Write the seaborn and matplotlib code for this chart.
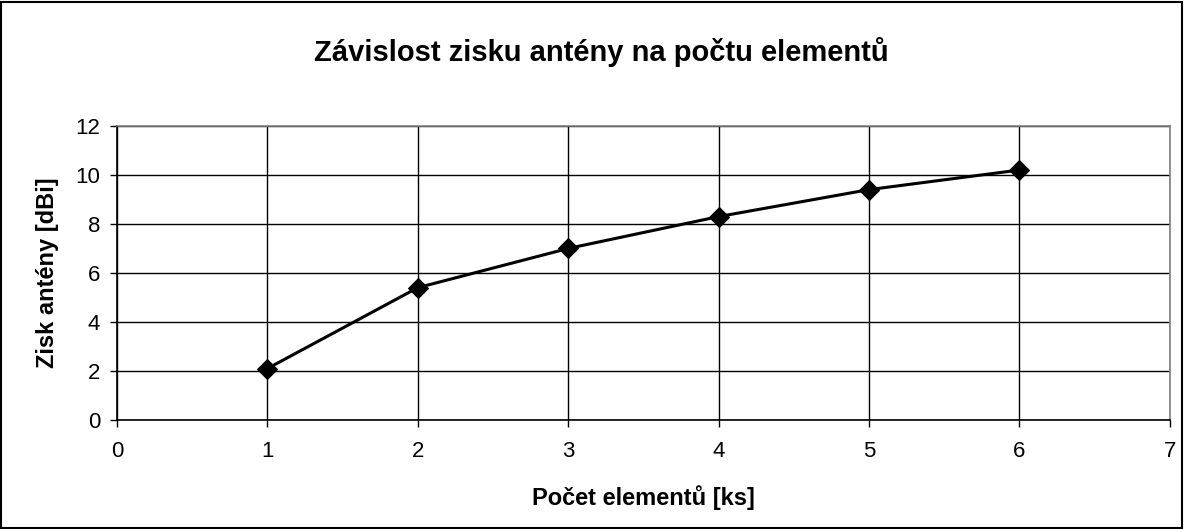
import numpy as np
import pandas as pd
import seaborn as sns
import matplotlib.pyplot as plt
from matplotlib.patches import Rectangle

# data
elements = [1, 2, 3, 4, 5, 6]
gain_dbi = [2.1, 5.4, 7.0, 8.3, 9.4, 10.2]
x_ticks = [0, 1, 2, 3, 4, 5, 6, 7]
y_ticks = [0, 2, 4, 6, 8, 10, 12]

df = pd.DataFrame({'elements': elements, 'gain': gain_dbi})

sns.set_style('white')
plt.rcParams['font.family'] = ['Liberation Sans', 'DejaVu Sans']
plt.rcParams['text.color'] = 'black'
plt.rcParams['axes.labelcolor'] = 'black'

fig = plt.figure(figsize=(11.84, 5.29), dpi=100)
ax = fig.add_axes([0.0988, 0.206, 0.8892, 0.556])

sns.lineplot(data=df, x='elements', y='gain', ax=ax, color='black',
             linewidth=2.2, marker='D', markersize=10, markeredgecolor='black',
             zorder=5)

ax.set_xlim(0, 7)
ax.set_ylim(0, 12)
ax.set_xticks(x_ticks)
ax.set_yticks(y_ticks)
ax.grid(True, color='black', linewidth=1.0)
ax.tick_params(axis='both', labelsize=16, colors='black', direction='out',
               length=5, width=1, left=True, bottom=True)
ax.tick_params(axis='y', pad=7)
ax.tick_params(axis='x', pad=10)

for side in ['left', 'bottom']:
    ax.spines[side].set_color('black')
    ax.spines[side].set_linewidth(1.2)
for side in ['top', 'right']:
    ax.spines[side].set_color('#808080')
    ax.spines[side].set_linewidth(1.2)

ax.set_xlabel('Počet elementů [ks]', fontsize=17, fontweight='bold', va='center')
ax.set_ylabel('Zisk antény [dBi]', fontsize=17, fontweight='bold', va='center')
ax.xaxis.set_label_coords(0.5, -0.262)
ax.yaxis.set_label_coords(-0.066, 0.5)
fig.suptitle('Závislost zisku antény na počtu elementů', fontsize=21,
             fontweight='bold', x=0.508, y=0.902, va='center')

# chart border
fig.patches.append(Rectangle((0.001, 0.002), 0.997, 0.995, transform=fig.transFigure,
                             fill=False, edgecolor='black', linewidth=1.5))

fig.savefig('out.png', dpi=100)
